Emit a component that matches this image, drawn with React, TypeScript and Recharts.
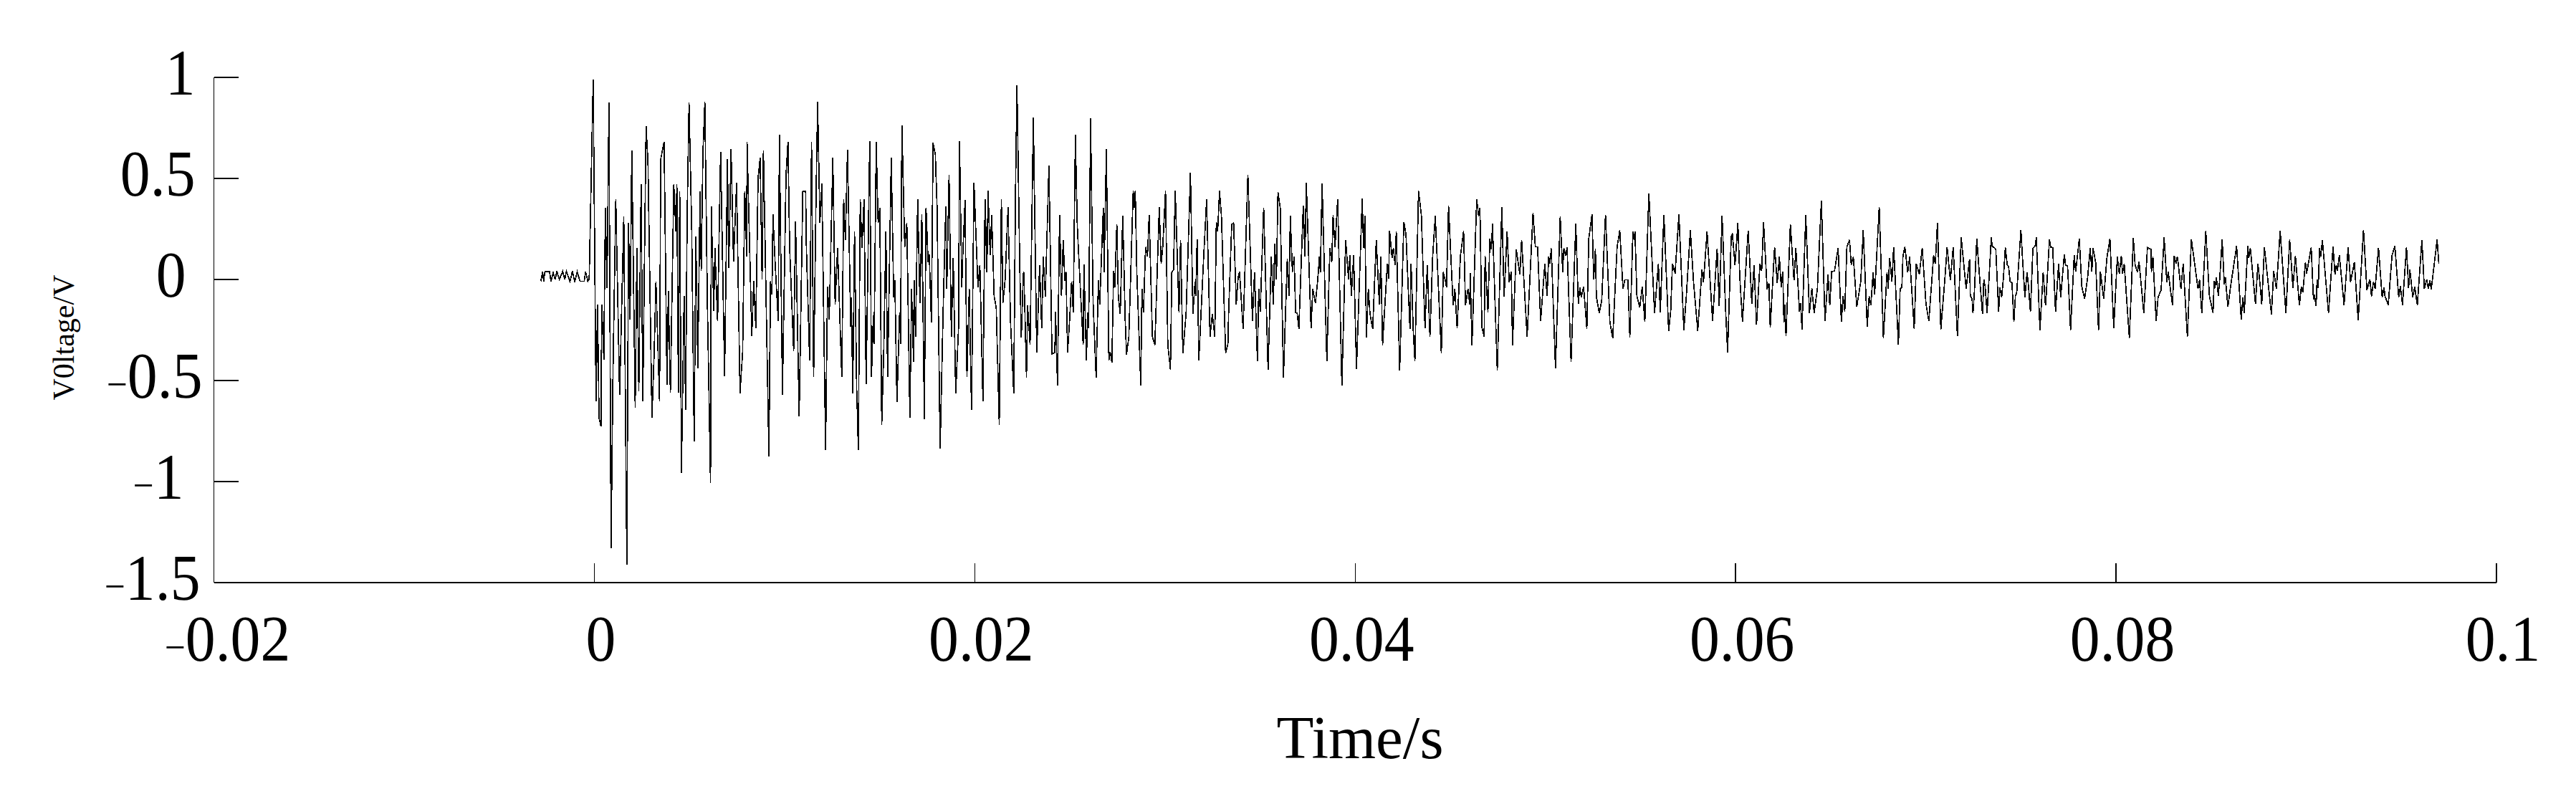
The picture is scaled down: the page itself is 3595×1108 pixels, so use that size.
import { Line, LineChart, XAxis, YAxis } from "recharts";

const preTrigger = [
  [-2.81,-0.009],[-2.72,0.038],[-2.66,-0.009],[-2.6,0.038],[-2.35,0.038],[-2.28,-0.009],[-2.16,0.033],[-2.06,0],[-1.97,0.041],[-1.84,0],
  [-1.66,0.041],[-1.55,0],[-1.47,0.041],[-1.28,-0.009],[-1.15,0.041],[-1.03,-0.012],[-0.9,0.038],[-0.75,-0.009],[-0.53,-0.009],[-0.46,0.038],
  [-0.34,-0.009],[-0.27,0],
];

const burstStart = [
  [-0.06,0.99],[0.09,-0.603],[0.17,-0.124],[0.25,-0.686],[0.35,-0.727],[0.39,-0.124],[0.5,-0.397],[0.58,0.355],[0.67,-0.042],[0.77,0.875],
  [0.88,-1.33],[0.98,-0.471],[1.13,0.396],[1.33,-0.57],[1.55,0.313],[1.71,-1.412],[1.8,0.28],[1.88,-0.198],[1.97,0.639],[2.15,-0.636],
  [2.24,0.156],[2.34,-0.553],[2.46,0.47],[2.55,-0.603],[2.72,0.759],[2.82,0.586],[3.03,-0.686],[3.15,-0.355],[3.24,-0.009],[3.43,-0.603],
  [3.49,0.594],[3.67,0.682],[3.82,-0.52],[3.89,-0.058],[4,-0.562],[4.18,0.47],[4.29,0.239],[4.34,0.47],[4.42,-0.562],[4.49,0.437],
  [4.58,-0.958],[4.72,-0.083],[4.8,-0.644],[4.88,0.305],[4.98,0.875],[5.12,0.256],[5.25,-0.801],[5.34,0.214],[5.44,-0.438],[5.56,0.437],
  [5.62,0.041],[5.71,0.627],[5.81,0.88],[5.94,-0.091],[6.11,-1.008],[6.15,0.363],[6.28,-0.157],[6.34,0.156],[6.48,-0.207],[6.64,0.632],
  [6.85,-0.479],[7,0.594],[7.07,0.057],[7.19,0.644],[7.32,0.09],[7.48,0.478],[7.66,-0.562],[7.8,-0.355],[7.91,0.437],[8.01,0.115],
  [8.03,0.682],[8.28,-0.281],[8.38,-0.009],[8.49,-0.24],[8.61,0.503],[8.72,0.602],[8.82,0],[8.89,0.639],[9.18,-0.875],[9.26,-0.009],
  [9.34,-0.075],[9.39,0.322],[9.51,0.074],[9.67,-0.207],[9.73,0.718],[9.89,-0.57],[10.08,0.52],[10.18,0.682],[10.27,0.156],[10.48,-0.355],
  [10.58,0.288],[10.77,-0.677],[10.96,0.437],[11.11,0.437],[11.15,0.156],
];

const burstEarly = [
  [11.32,-0.401],[11.42,0.681],[11.53,-0.484],[11.66,0.427],[11.74,0.879],[11.86,0.279],[11.96,0.474],[12.16,-0.844],[12.26,-0.034],[12.35,-0.2],
  [12.54,0.604],[12.66,-0.123],[12.79,0.155],[13.01,-0.484],[13.11,0.397],[13.2,0.196],[13.31,0.642],[13.48,-0.235],[13.51,-0.088],[13.59,-0.564],
  [13.68,0.238],[13.79,-0.525],[13.88,-0.844],[13.98,0.397],[14.07,0.155],[14.18,0.397],[14.29,-0.519],[14.48,0.684],[14.57,-0.484],[14.67,-0.176],
  [14.71,-0.318],[14.82,0.681],[14.92,0.279],[15.01,0.356],[15.11,-0.72],[15.22,-0.336],[15.33,0.238],[15.42,-0.484],[15.61,0.604],[15.74,-0.088],
  [15.8,-0.005],[15.91,-0.608],[16.05,-0.164],[16.1,-0.318],[16.17,0.763],[16.32,0.161],[16.43,0.279],[16.59,-0.684],[16.68,-0.046],[16.78,-0.407],
  [16.81,-0.005],[16.89,-0.283],[17,0.397],[17.12,-0.117],[17.22,0.323],[17.35,-0.69],[17.44,0.356],[17.55,0.084],[17.61,0.125],[17.72,-0.212],
  [17.81,0.677],[17.93,0.616],[18.02,0.356],[18.18,-0.838],[18.33,-0.188],[18.43,0.19],[18.48,0.362],[18.53,-0.046],[18.65,0.518],[18.77,-0.283],
  [18.87,0.107],[19,-0.564],[19.15,-0.235],[19.2,0.684],[19.32,-0.04],[19.37,0.119],[19.49,0.393],[19.59,-0.484],[19.71,-0.046],[19.83,-0.647],
  [19.96,0.48],[20.17,-0.04],[20.27,0.072],[20.43,-0.602],[20.54,0.397],[20.64,0.037],[20.7,0.438],[20.81,0.119],[20.89,0.318],[21.02,-0.082],
  [21.13,-0.141],[21.29,-0.72],[21.4,0.397],[21.48,-0.117],[21.6,0.001],[21.75,0.358],[21.88,-0.206],[22.05,-0.564],[22.14,0.415],[22.22,0.961],
  [22.37,0.048],[22.45,-0.288],[22.55,0.025],
];

const burstMiddle = [
  [22.58,0.037],[22.64,-0.17],[22.72,-0.484],[22.78,-0.129],[22.91,-0.324],[23.08,0.803],[23.26,-0.363],[23.41,0.072],[23.52,-0.241],[23.6,0.113],
  [23.71,-0.084],[23.9,0.563],[24.06,-0.368],[24.21,-0.363],[24.25,-0.158],[24.35,-0.525],[24.46,0.32],[24.56,-0.082],[24.65,0.196],[24.74,-0.008],
  [24.8,0.037],[24.88,-0.363],[24.99,-0.2],[25.09,-0.011],[25.18,-0.164],[25.29,0.716],[25.39,0.273],[25.45,0.149],[25.7,-0.324],[25.74,0.074],
  [25.87,-0.401],[25.94,-0.164],[25.99,-0.241],[26.09,0.799],[26.22,-0.105],[26.38,-0.484],[26.5,-0.005],[26.57,-0.123],[26.76,0.356],[26.8,0.037],
  [26.92,0.645],[27.05,-0.401],[27.12,-0.359],[27.21,-0.41],[27.3,0.042],[27.36,-0.04],[27.47,0.273],[27.55,-0.088],[27.65,-0.17],[27.78,0.314],
  [27.91,-0.2],[27.98,-0.371],[28.1,-0.285],[28.33,0.438],[28.39,0.356],[28.44,0.438],[28.52,0.037],[28.73,-0.525],[28.79,-0.046],[28.87,-0.164],
  [28.98,0.161],[29.08,0.113],[29.17,0.32],[29.34,-0.283],[29.47,-0.324],[29.7,0.358],[29.8,0.078],[29.88,0.155],[30.03,0.438],[30.15,-0.324],
  [30.29,-0.446],[30.36,0.034],[30.45,0.048],[30.54,0.438],[30.74,-0.164],[30.82,0.196],[30.94,-0.365],[31.11,-0.17],[31.34,0.527],[31.47,-0.17],
  [31.58,-0.011],[31.62,-0.082],[31.69,0.2],[31.78,-0.401],[32.04,0.119],[32.19,0.397],[32.37,-0.283],[32.49,-0.17],[32.62,-0.283],[32.7,0.285],
  [32.77,0.238],[32.87,0.438],[32.97,0.314],[33.19,-0.365],[33.31,-0.318],[33.35,-0.158],[33.51,0.273],[33.61,0.279],[33.75,-0.123],[33.85,0.013],
];

const decayFirst = [
  [33.92,0.037],[34.11,-0.245],[34.36,0.519],[34.6,-0.206],[34.71,0.037],[34.86,-0.404],[34.93,-0.046],[35.01,-0.158],[35.19,0.356],[35.42,-0.445],
  [35.59,0.113],[35.7,-0.123],[35.77,0.178],[35.86,0.001],[35.94,0.433],[36.06,0.356],[36.23,-0.484],[36.43,0.102],[36.52,-0.082],[36.59,0.314],
  [36.7,0.037],[36.79,0.113],[36.87,-0.164],[36.95,-0.167],[37.04,-0.245],[37.27,0.365],[37.36,0.113],[37.43,0.48],[37.68,-0.241],[37.77,-0.046],
  [37.91,-0.117],[38.03,-0.005],[38.12,0.113],[38.17,0.037],[38.26,0.476],[38.51,-0.404],[38.67,0.155],[38.77,0.084],[38.84,0.318],[38.94,0.161],
  [39.08,0.397],[39.3,-0.525],[39.5,0.196],[39.65,0.001],[39.72,0.119],[39.8,-0.082],[39.92,0.119],[40.07,-0.442],[40.37,0.401],[40.44,0.155],
  [40.51,0.314],[40.59,-0.288],[40.69,-0.046],[40.78,-0.17],[40.92,-0.245],[41.11,0.196],[41.27,-0.123],[41.35,0.113],[41.44,-0.326],[41.57,-0.115],
  [41.69,0.078],[41.76,0.003],[41.81,0.24],[41.94,0.107],[42.01,0.155],[42.1,0.072],[42.16,0.238],[42.34,-0.45],[42.56,0.285],[42.67,0.226],
  [42.88,-0.245],[42.94,0.078],[43.05,-0.245],[43.14,-0.404],[43.33,0.438],[43.48,0.32],[43.67,-0.241],[43.79,0.072],[43.93,-0.283],[44.07,0.107],
  [44.21,0.314],[44.53,-0.365],[44.63,0.037],[44.74,-0.005],[44.8,-0.04],[44.91,0.365],[44.99,0.196],[45.15,-0.129],[45.24,-0.046],[45.36,-0.241],
  [45.53,0.113],[45.7,0.24],[45.8,-0.129],[45.93,-0.046],[46.02,-0.123],[46.05,0.031],[46.14,-0.326],[46.39,0.397],[46.49,0.314],[46.56,0.356],
  [46.66,-0.235],
];

const decaySecond = [
  [46.78,-0.283],[46.83,0.116],[46.98,-0.163],[47.08,0.201],[47.16,0.148],[47.22,0.275],[47.47,-0.449],[47.71,0.357],[47.83,-0.085],[47.99,0.237],
  [48.1,-0.014],[48.21,0.038],[48.27,-0.325],[48.47,0.148],[48.66,0.024],[48.75,0.196],[49.04,-0.283],[49.35,0.329],[49.47,0.164],[49.59,0.16],
  [49.75,-0.206],[49.97,0.077],[50.09,-0.082],[50.17,0.113],[50.24,0.077],[50.31,0.154],[50.53,-0.44],[50.78,0.311],[50.91,0.036],[50.97,0.156],
  [51.07,0.116],[51.14,0.16],[51.35,-0.407],[51.6,0.275],[51.73,-0.121],[51.81,-0.041],[51.89,-0.088],[52.01,-0.035],[52.18,-0.245],[52.28,0.201],
  [52.45,0.322],[52.54,0],[52.63,0.152],[52.68,-0.085],[52.83,-0.165],[52.96,-0.106],[53.16,0.32],[53.39,-0.21],[53.54,-0.291],[53.77,0.16],
  [53.91,0.243],[54.08,-0.047],[54.17,-0.002],[54.34,-0.002],[54.44,-0.286],[54.6,0.237],[54.66,0.196],[54.71,0.239],[54.81,-0.082],[54.96,-0.139],
  [55.09,-0.037],[55.23,-0.21],[55.44,0.426],[55.74,-0.165],[55.94,0.077],[56.04,-0.163],[56.23,0.32],[56.48,-0.254],[56.59,-0.153],[56.68,0.077],
  [56.82,0.03],[57.02,0.322],[57.28,-0.25],[57.41,-0.082],[57.62,0.243],[57.79,-0.014],[58.01,-0.254],[58.23,0.048],[58.31,-0.014],[58.5,0.237],
  [58.79,-0.206],[59.03,0.154],[59.14,-0.13],[59.29,0.314],[59.48,-0.161],
];

const decayThird = [
  [59.58,-0.362],[59.77,0.214],[59.83,0.226],[59.97,0.072],[60.12,0.279],[60.22,0.013],[60.36,-0.21],[60.66,0.24],[60.75,0.078],[60.85,-0.12],
  [60.97,0.072],[61.1,-0.224],[61.28,0.078],[61.37,0.042],[61.47,0.282],[61.66,-0.049],[61.75,-0.017],[61.82,-0.238],[62.05,0.161],[62.19,-0.017],
  [62.3,0.113],[62.4,-0.04],[62.48,0.039],[62.54,-0.212],[62.59,-0.123],[62.65,-0.28],[62.88,0.273],[63.07,-0.005],[63.17,0.155],[63.36,-0.159],
  [63.42,-0.117],[63.49,-0.247],[63.69,0.32],[63.88,-0.165],[64.01,-0.044],[64.13,-0.165],[64.3,-0.046],[64.51,0.391],[64.7,-0.206],[64.86,0.025],
  [64.95,-0.129],[65.05,0.039],[65.2,0.042],[65.39,0.155],[65.56,-0.21],[65.65,-0.082],[65.74,-0.159],[65.85,0.161],[65.99,0.196],[66.08,0.072],
  [66.19,0.113],[66.37,-0.135],[66.58,-0.011],[66.71,0.243],[66.92,-0.235],[67.02,-0.082],[67.11,-0.129],[67.23,0.036],[67.31,-0.076],[67.55,0.358],
  [67.77,-0.289],[67.96,0.036],[68.02,-0.046],[68.1,0.107],[68.22,-0.011],[68.31,0.161],[68.56,-0.324],[68.65,-0.046],[68.74,-0.04],[68.8,0.119],
  [68.9,0.161],[69.05,0.036],[69.15,0.113],[69.39,-0.245],[69.5,0.078],[69.66,0.025],[69.81,0.157],[70.01,-0.123],[70.16,-0.204],[70.41,0.119],
  [70.5,0.078],[70.61,0.279],[70.79,-0.247],[71.01,0.013],[71.12,0.161],[71.29,-0.005],[71.44,0.161],[71.66,-0.28],[71.86,0.208],[72.12,-0.046],
  [72.3,0.1],
];

const tailFirst = [
  [72.34,-0.082],[72.43,-0.094],[72.48,-0.167],[72.55,-0.07],[72.68,0.202],[72.78,0.072],[72.85,-0.017],[72.98,-0.171],[73.05,0.001],[73.12,-0.035],
  [73.22,-0.165],[73.3,-0.035],[73.44,0.208],[73.49,0.166],[73.68,0.149],[73.83,-0.161],[73.89,-0.041],[73.99,-0.088],[74.08,0.007],[74.18,0.16],
  [74.28,0.072],[74.35,0.066],[74.43,-0.009],[74.53,-0.017],[74.63,-0.21],[74.71,-0.082],[74.78,-0.064],[75,0.245],[75.09,0.095],[75.21,-0.088],
  [75.32,0.036],[75.4,-0.035],[75.5,-0.161],[75.63,0.154],[75.75,0.166],[75.81,0.208],[76,-0.253],[76.17,0.036],[76.29,-0.129],[76.34,-0.064],
  [76.5,0.199],[76.57,0.16],[76.67,0.157],[76.82,-0.159],[76.98,0.078],[77.09,-0.088],[77.28,0.125],[77.35,0.072],[77.45,0.066],[77.47,0.036],
  [77.61,-0.25],[77.8,0.119],[77.88,0.039],[78.07,0.202],[78.2,-0.035],[78.35,-0.096],[78.51,0.013],[78.64,0.154],[78.73,0.039],[78.79,0.157],
  [78.93,0.083],[79.08,-0.25],[79.18,0.039],[79.35,-0.096],[79.52,0.107],[79.68,0.202],[79.88,-0.242],[80.07,0.113],[80.17,0.027],[80.28,0.117],
  [80.34,0.03],[80.43,0.078],[80.7,-0.289],[80.91,0.204],[81,0.074],[81.12,0.036],[81.21,0.089],[81.46,-0.167],[81.65,0.159],[81.84,0.149],
  [81.86,0.036],[81.94,0.113],[82.11,-0.206],[82.21,-0.088],[82.37,-0.052],[82.53,0.208],[82.67,-0.013],[82.74,0.039],[82.97,-0.129],[83.06,0.117],
  [83.16,0.078],[83.22,0.113],[83.28,0.072],[83.41,-0.047],[83.53,0.078],[83.75,-0.283],[83.96,0.198],[84.11,0.095],[84.31,-0.047],[84.39,-0.002],
  [84.51,-0.167],[84.72,0.24],[84.91,-0.082],
];

const tailSecond = [
  [85.1,-0.165],[85.16,-0.009],[85.2,-0.041],[85.28,0.009],[85.38,-0.082],[85.45,0.001],[85.58,0.198],[85.69,-0.023],[85.75,0.009],[85.88,-0.135],
  [86.04,-0.023],[86.34,0.166],[86.58,-0.198],[86.67,-0.088],[86.74,-0.167],[86.93,0.166],[86.98,0.107],[87.06,0.157],[87.33,-0.12],[87.46,0.078],
  [87.57,-0.023],[87.66,-0.123],[87.8,0.16],[88.17,-0.174],[88.29,0.042],[88.43,-0.047],[88.63,0.24],[88.93,-0.167],[89.13,0.198],[89.3,-0.041],
  [89.43,0.117],[89.64,-0.129],[89.74,-0.035],[89.82,-0.064],[89.96,0.086],[90.02,0.03],[90.26,0.159],[90.38,-0.1],[90.43,-0.076],[90.52,-0.132],
  [90.57,0.001],[90.63,-0.041],[90.7,0.157],[90.76,0.113],[90.85,0.195],[91.17,-0.167],[91.41,0.163],[91.51,0.024],[91.58,0.072],[91.64,0.042],
  [91.74,0.121],[91.99,-0.127],[92.2,0.159],[92.33,-0.013],[92.53,0.086],[92.73,-0.203],[93.01,0.245],[93.19,-0.052],[93.35,0.001],[93.43,-0.084],
  [93.53,-0.013],[93.62,-0.047],[93.8,0.157],[93.99,-0.088],[94.09,-0.041],[94.14,-0.082],[94.31,-0.127],[94.51,0.119],[94.66,0.166],[94.86,-0.088],
  [94.95,-0.032],[95.06,-0.127],[95.27,0.159],[95.38,-0.041],[95.45,0.048],[95.6,-0.088],[95.7,-0.035],[95.84,-0.127],[96.08,0.195],[96.21,-0.047],
  [96.33,0.001],[96.42,-0.047],[96.5,-0.005],[96.57,-0.051],[96.88,0.198],[96.97,0.078],
];

const xTicks = [-20, 0, 20, 40, 60, 80, 100];
const xTickLabels = ["\u22120.02", "0", "0.02", "0.04", "0.06", "0.08", "0.1"];
const yTicks = [1, 0.5, 0, -0.5, -1, -1.5];
const yTickLabels = ["1", "0.5", "0", "\u22120.5", "\u22121", "\u22121.5"];
// the labels in the figure are not lined up on one edge
const yLabelShift = [-58, -58, -71, -48, -74, -51];

const signal = [
  ...preTrigger,
  ...burstStart,
  ...burstEarly,
  ...burstMiddle,
  ...decayFirst,
  ...decaySecond,
  ...decayThird,
  ...tailFirst,
  ...tailSecond,
].map(([time, voltage]) => ({ time, voltage }));

const FONT = "'Liberation Serif', serif";
const TICK_FONT_SIZE = 91;
const MINUS_FONT_SIZE = 56;

// keeps the thin short minus sign of the figure, digits are a bit narrow and tall there
const TickText = ({ x, y, anchor, label }: any) => {
  const negative = label.startsWith("\u2212");
  return (
    <text
      transform={`translate(${x} ${y}) scale(0.92 1)`}
      textAnchor={anchor}
      fontFamily={FONT}
      fontSize={TICK_FONT_SIZE}
      fill="#000"
    >
      {negative && <tspan fontSize={MINUS_FONT_SIZE}>{"\u2212"}</tspan>}
      <tspan>{negative ? label.slice(1) : label}</tspan>
    </text>
  );
};

const XTick = ({ x, y, index }: any) => (
  <TickText x={x + (index === 0 ? 19 : 9)} y={y + 134} anchor="middle" label={xTickLabels[index]} />
);

const YTick = ({ x, y, index }: any) => (
  <TickText x={x + yLabelShift[index]} y={y + 24} anchor="end" label={yTickLabels[index]} />
);

const XTitle = () => (
  <text x={1898} y={1058} textAnchor="middle" fontFamily={FONT} fontSize={85} fill="#000">
    Time/s
  </text>
);

const YTitle = () => (
  <text
    x={103}
    y={471}
    transform="rotate(-90 103 471)"
    textAnchor="middle"
    fontFamily={FONT}
    fontSize={42}
    fill="#000"
  >
    V0ltage/V
  </text>
);

const axisStyle = { stroke: "#000", strokeWidth: 1.5, shapeRendering: "crispEdges" };

const App = () => (
  <div style={{ position: "absolute", left: 0, top: 0, width: 3595, height: 1108, background: "#fff" }}>
    <LineChart width={3595} height={1108} data={signal} margin={{ top: 108, right: 111, bottom: 0, left: 0 }}>
      <XAxis
        dataKey="time"
        type="number"
        domain={[-20, 100]}
        ticks={xTicks}
        interval={0}
        height={295}
        tickSize={-27}
        tick={XTick}
        axisLine={axisStyle}
        tickLine={axisStyle}
        label={{ value: "Time/s", content: XTitle }}
      />
      <YAxis
        type="number"
        domain={[-1.5, 1]}
        ticks={yTicks}
        interval={0}
        width={298.5}
        tickSize={-34}
        tick={YTick}
        axisLine={axisStyle}
        tickLine={axisStyle}
        label={{ value: "V0ltage/V", content: YTitle }}
      />
      <Line
        type="linear"
        dataKey="voltage"
        stroke="#000"
        strokeWidth={1.7}
        shapeRendering="crispEdges"
        dot={false}
        isAnimationActive={false}
      />
    </LineChart>
  </div>
);

export default App;
